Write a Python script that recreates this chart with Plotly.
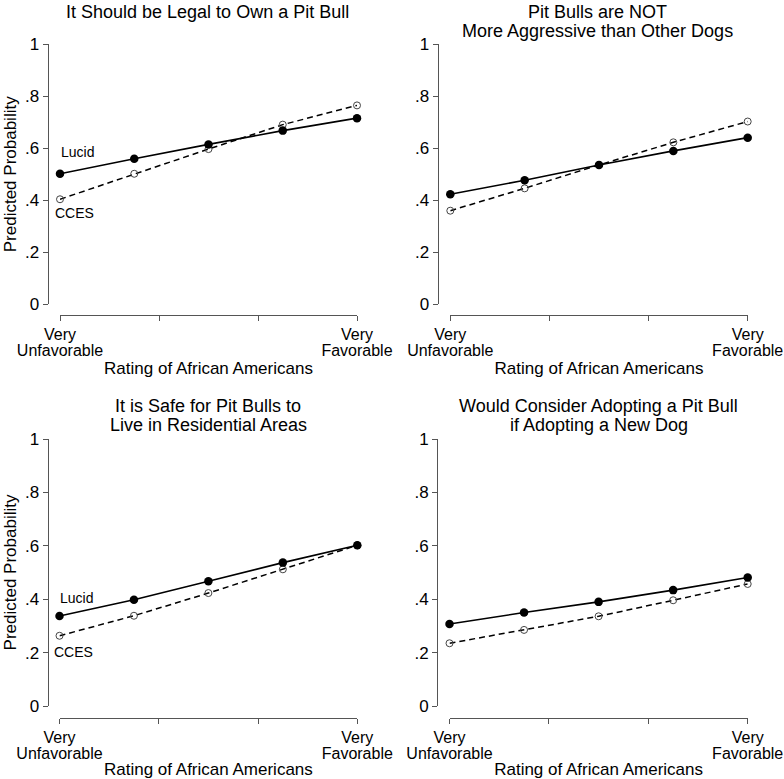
import plotly.graph_objects as go

# ---- data ----
ratings = [1, 2, 3, 4, 5]  # Very Unfavorable ... Very Favorable
tick_vals = [1, 1 + 4 / 3, 1 + 8 / 3, 5]
tick_text_top = ["Very", "", "", "Very"]
tick_text_bottom = ["Unfavorable", "", "", "Favorable"]
y_tick_vals = [0, 0.2, 0.4, 0.6, 0.8, 1]
y_tick_text = ["0", ".2", ".4", ".6", ".8", "1"]

titles = [
    ["It Should be Legal to Own a Pit Bull"],
    ["Pit Bulls are NOT", "More Aggressive than Other Dogs"],
    ["It is Safe for Pit Bulls to", "Live in Residential Areas"],
    ["Would Consider Adopting a Pit Bull", "if Adopting a New Dog"],
]

lucid_legal = [0.502, 0.560, 0.615, 0.668, 0.716]
cces_legal = [0.404, 0.502, 0.597, 0.691, 0.765]

lucid_aggr = [0.423, 0.477, 0.536, 0.590, 0.641]
cces_aggr = [0.360, 0.446, 0.536, 0.623, 0.703]

lucid_safe = [0.337, 0.398, 0.467, 0.537, 0.602]
cces_safe = [0.263, 0.338, 0.423, 0.512, 0.602]

lucid_adopt = [0.307, 0.350, 0.390, 0.434, 0.481]
cces_adopt = [0.235, 0.285, 0.336, 0.396, 0.457]

x_title = "Rating of African Americans"
y_title = "Predicted Probability"
series_names = ["Lucid", "CCES"]

panels = [
    (lucid_legal, cces_legal),
    (lucid_aggr, cces_aggr),
    (lucid_safe, cces_safe),
    (lucid_adopt, cces_adopt),
]

# ---- layout geometry (pixels in the 784x779 page) ----
W, H = 784, 779
FONT = "Liberation Sans, Arial, sans-serif"
AX_COLOR = "#555555"


def px_x(px):
    return px / W


def px_y(py):
    return (H - py) / H


geom = [
    # x0, x1 (data span px), ytop, ybot (px), yaxis line x, xaxis line y, title center x, title top
    (60.0, 357.0, 44.3, 304.3, 47.5, 315.0, 207.8, 0.0),
    (450.3, 747.7, 44.3, 304.3, 437.5, 315.0, 597.8, 0.0),
    (59.5, 357.3, 439.0, 706.0, 47.5, 717.7, 208.0, 394.0),
    (449.5, 747.7, 439.0, 706.0, 437.0, 717.7, 598.7, 394.0),
]

fig = go.Figure()
layout = dict(
    width=W,
    height=H,
    margin=dict(l=0, r=0, t=0, b=0, autoexpand=False),
    paper_bgcolor="white",
    plot_bgcolor="white",
    showlegend=False,
    font=dict(family=FONT, color="black"),
    annotations=[],
)

for i, ((lucid, cces), g) in enumerate(zip(panels, geom)):
    x0, x1, yt, yb, yax_x, xax_y, tcx, ttop = g
    n = "" if i == 0 else str(i + 1)
    m = str(i + 5)
    xa, ya, xb = "x" + n, "y" + n, "x" + m
    fig.add_trace(go.Scatter(
        x=ratings, y=cces, xaxis=xa, yaxis=ya, mode="lines+markers",
        name=series_names[1], cliponaxis=False,
        line=dict(color="black", width=1.5, dash="6px,4px"),
        marker=dict(symbol="circle-open", size=7, color="#444444", line=dict(width=1)),
    ))
    fig.add_trace(go.Scatter(
        x=ratings, y=lucid, xaxis=xa, yaxis=ya, mode="lines+markers",
        name=series_names[0], cliponaxis=False,
        line=dict(color="black", width=1.6),
        marker=dict(symbol="circle", size=8.5, color="black"),
    ))
    # empty trace so the overlaid axis (second tick-label line + title) is drawn
    fig.add_trace(go.Scatter(
        x=[None], y=[None], xaxis=xb, yaxis=ya, mode="lines",
        showlegend=False, hoverinfo="skip",
    ))
    layout["xaxis" + n] = dict(
        domain=[px_x(x0), px_x(x1)], range=[1, 5], anchor="free",
        position=px_y(xax_y), automargin=False,
        tickmode="array", tickvals=tick_vals, ticktext=tick_text_top,
        ticks="outside", ticklen=5, tickwidth=1, tickcolor=AX_COLOR,
        showline=True, linecolor=AX_COLOR, linewidth=1,
        showgrid=False, zeroline=False,
        tickfont=dict(size=16, color="black"),
    )
    layout["xaxis" + m] = dict(
        domain=[px_x(x0), px_x(x1)], range=[1, 5], anchor="free", overlaying=xa,
        position=px_y(xax_y + 24), automargin=False,
        tickmode="array", tickvals=tick_vals, ticktext=tick_text_bottom,
        ticks="", ticklen=5, showline=False, showgrid=False, zeroline=False,
        tickfont=dict(size=16, color="black"),
        title=dict(text=x_title, font=dict(size=17, color="black"), standoff=4),
    )
    layout["yaxis" + n] = dict(
        domain=[px_y(yb), px_y(yt)], range=[0, 1], anchor="free",
        position=px_x(yax_x), automargin=False,
        tickmode="array", tickvals=y_tick_vals, ticktext=y_tick_text,
        ticks="outside", ticklen=5, tickwidth=1, tickcolor=AX_COLOR,
        showline=True, linecolor=AX_COLOR, linewidth=1,
        showgrid=False, zeroline=False,
        tickfont=dict(size=17, color="black"),
        title=dict(text=y_title if i in (0, 2) else "", font=dict(size=17, color="black"), standoff=2),
    )
    for k, line in enumerate(titles[i]):
        layout["annotations"].append(dict(
            text=line, xref="paper", yref="paper", x=px_x(tcx), y=px_y(ttop),
            xanchor="center", yanchor="top", yshift=-19 * k, showarrow=False,
            font=dict(size=18, color="black"),
        ))

# series labels in the left panels
label_pos = {
    0: [(1 + 4 * 0.058, 0.585), (1 + 4 * 0.05, 0.35)],
    2: [(1 + 4 * 0.058, 0.406), (1 + 4 * 0.047, 0.203)],
}
for i, pos in label_pos.items():
    n = "" if i == 0 else str(i + 1)
    for name, (lx, ly) in zip(series_names, pos):
        layout["annotations"].append(dict(
            text=name, xref="x" + n, yref="y" + n, x=lx, y=ly,
            xanchor="center", yanchor="middle", showarrow=False,
            font=dict(size=14, color="black"),
        ))

fig.update_layout(**layout)
fig.write_html(
    "out.html",
    config={"displayModeBar": False},
    post_script="document.body.style.margin='0';document.body.style.overflow='hidden';",
)
